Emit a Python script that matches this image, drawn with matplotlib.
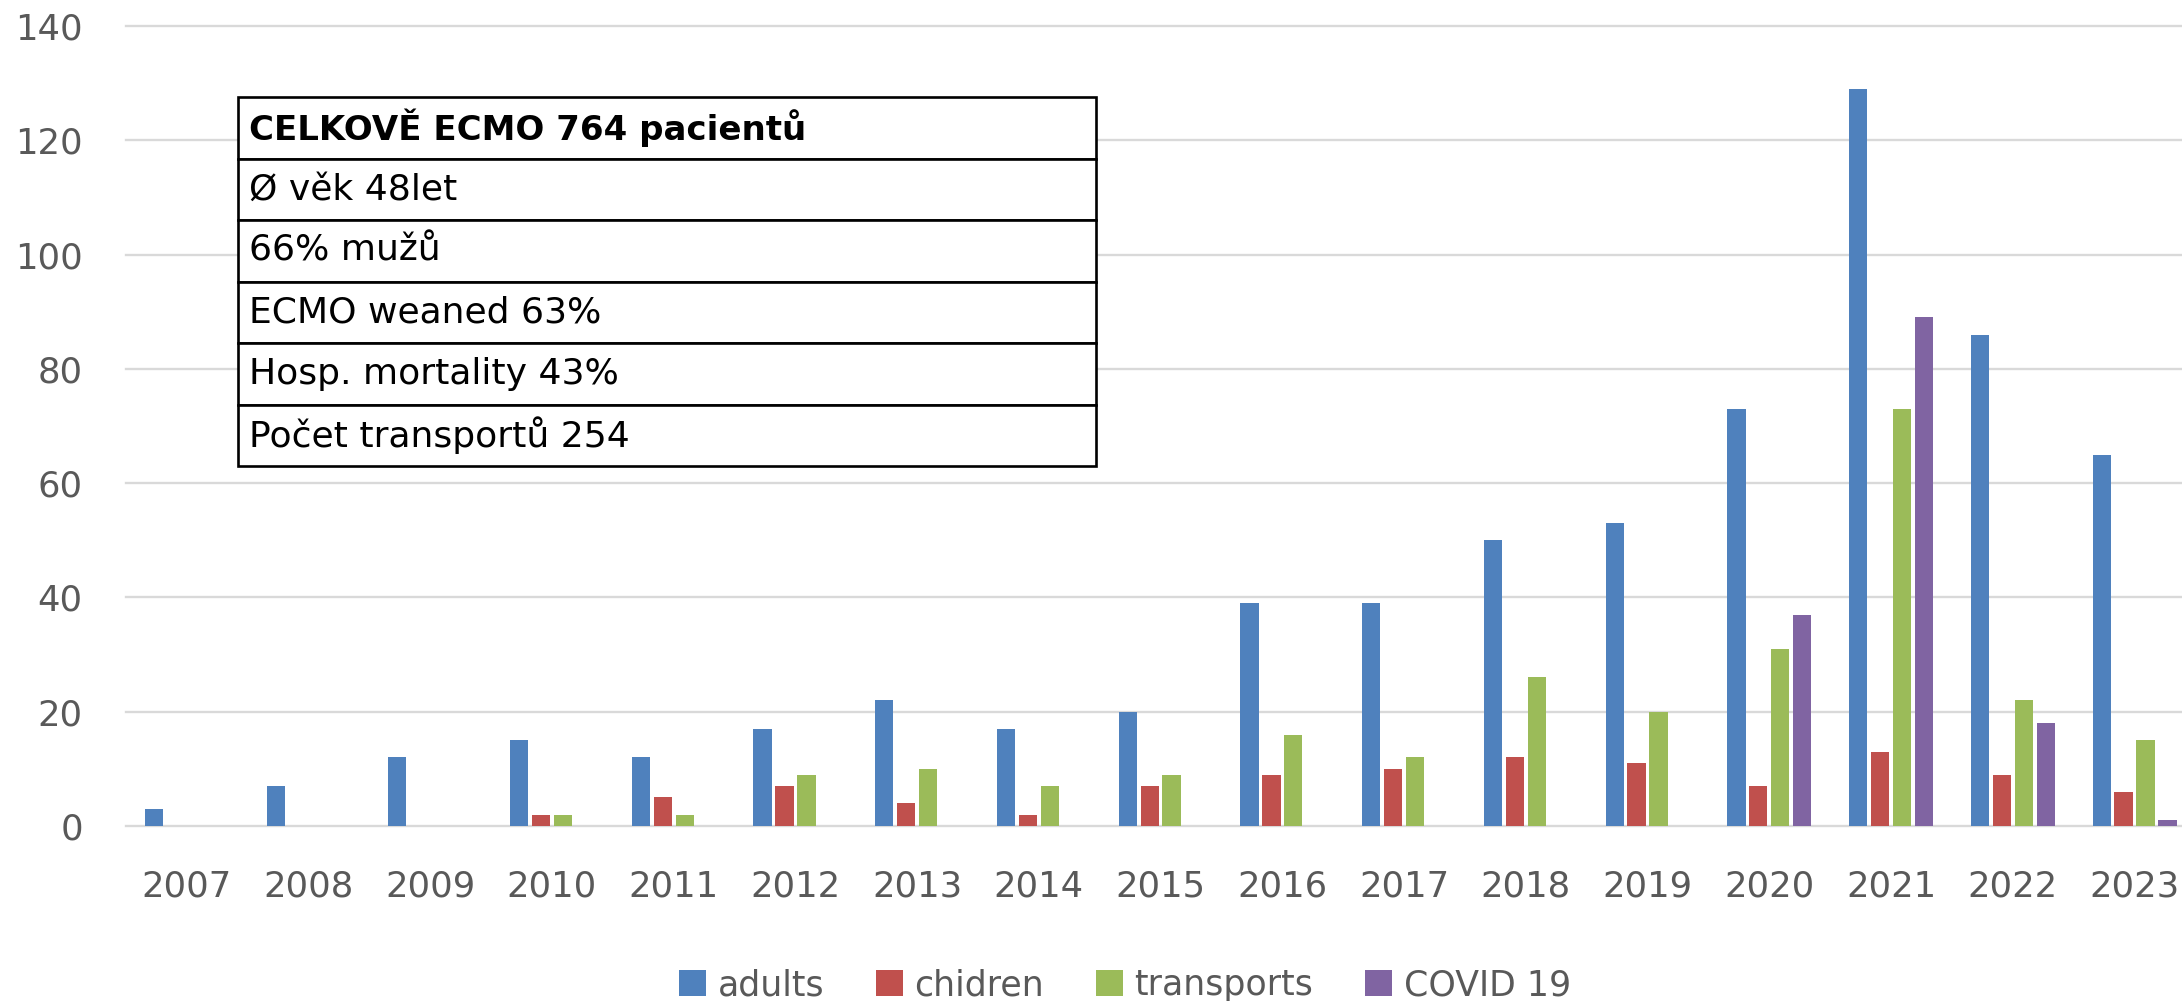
import numpy as np
import matplotlib.pyplot as plt

plt.rcParams['font.family'] = ['DejaVu Sans']

# data
years = ['2007', '2008', '2009', '2010', '2011', '2012', '2013', '2014', '2015',
         '2016', '2017', '2018', '2019', '2020', '2021', '2022', '2023']
adults = [3, 7, 12, 15, 12, 17, 22, 17, 20, 39, 39, 50, 53, 73, 129, 86, 65]
children = [0, 0, 0, 2, 5, 7, 4, 2, 7, 9, 10, 12, 11, 7, 13, 9, 6]
transports = [0, 0, 0, 2, 2, 9, 10, 7, 9, 16, 12, 26, 20, 31, 73, 22, 15]
covid = [0, 0, 0, 0, 0, 0, 0, 0, 0, 0, 0, 0, 0, 37, 89, 18, 1]
series_names = ['adults', 'chidren', 'transports', 'COVID 19']
colors = ['#4F81BD', '#C0504D', '#9BBB59', '#8064A2']
y_ticks = [0, 20, 40, 60, 80, 100, 120, 140]

table_rows = ['CELKOVĚ ECMO 764 pacientů', 'Ø věk 48let', '66% mužů',
              'ECMO weaned 63%', 'Hosp. mortality 43%', 'Počet transportů 254']

grey = '#595959'
grid_col = '#D9D9D9'

fig = plt.figure(figsize=(21.82, 10.01), dpi=100)
ax = fig.add_axes([0.0577, 0.1748, 0.9423, 0.7992])

x = np.arange(len(years))
width = 0.15
step = 0.18
all_series = [adults, children, transports, covid]
for k, vals in enumerate(all_series):
    ax.bar(x + (k - 1.5) * step, vals, width=width, color=colors[k],
           label=series_names[k], zorder=3)

ax.set_xlim(-0.5, 16.39)
ax.set_ylim(0, 140)
ax.set_xticks(x)
ax.set_xticklabels(years)
ax.set_yticks(y_ticks)

ax.yaxis.grid(True, color=grid_col, linewidth=1.7)
ax.set_axisbelow(True)
for gl in ax.get_ygridlines():
    gl.set_clip_on(False)
for s in ax.spines.values():
    s.set_visible(False)

ax.tick_params(axis='both', length=0, labelsize=25.5, labelcolor=grey)
ax.tick_params(axis='y', pad=31)
ax.tick_params(axis='x', pad=31)

# info table
tbl = ax.table(cellText=[[r] for r in table_rows], cellLoc='left',
               bbox=[0.0545, 0.45, 0.4173, 0.461])
tbl.auto_set_font_size(False)
tbl.set_zorder(5)
for (r, c), cell in tbl.get_celld().items():
    cell.set_linewidth(1.9)
    cell.set_edgecolor('black')
    cell.PAD = 0.013
    txt = cell.get_text()
    if r == 0:
        txt.set_fontsize(24.5)
        txt.set_fontweight('bold')
    else:
        txt.set_fontsize(26)

leg = ax.legend(loc='center', bbox_to_anchor=(1125 / 2182, 1 - 985 / 1001),
                bbox_transform=fig.transFigure, ncol=4, frameon=False,
                fontsize=25, handlelength=0.78, handleheight=0.78,
                handletextpad=0.32, columnspacing=1.5)
for t in leg.get_texts():
    t.set_color(grey)

fig.savefig('out.png', dpi=100)
